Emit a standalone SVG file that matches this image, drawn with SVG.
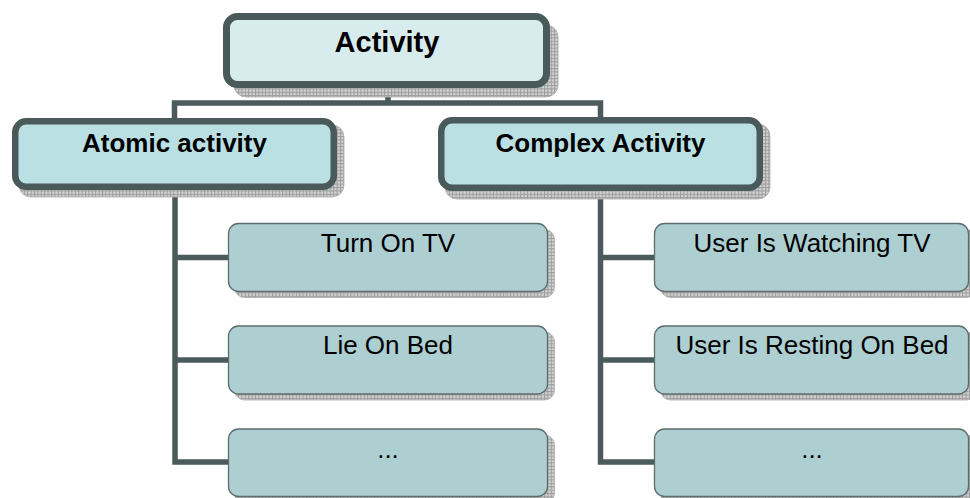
<svg xmlns="http://www.w3.org/2000/svg" width="970" height="498" viewBox="0 0 970 498">
<defs>
<pattern id="hatch" width="3.4" height="3.4" patternUnits="userSpaceOnUse">
<rect width="3.4" height="3.4" fill="#d2d2d2"/>
<path d="M0 0.5H3.4M0.5 0V3.4" stroke="#9c9c9c" stroke-width="1" fill="none"/>
</pattern>
</defs>
<style>
.shadow{fill:url(#hatch);stroke:#aaaaaa;stroke-width:0.8}
.top{fill:#d8ecee;stroke:#4a5a5a;stroke-width:7}
.mid{fill:#bbe0e4;stroke:#4a5a5a;stroke-width:6.5}
.leaf{fill:#adcfd1;stroke:#5d6d6d;stroke-width:1.3}
.conn{fill:none;stroke:#4b5b5b;stroke-width:5.5;stroke-linejoin:miter;stroke-linecap:butt}
.bold{font-family:"Liberation Sans",Arial,sans-serif;font-weight:bold;fill:#000;text-anchor:middle}
.reg{font-family:"Liberation Sans",Arial,sans-serif;font-size:26px;fill:#000;text-anchor:middle}
</style>
<g id="connectors">
<path class="conn" d="M388 88V103"/>
<path class="conn" d="M174.5 118V103H600.5V118"/>
<path class="conn" d="M175 190V462H229"/>
<path class="conn" d="M175 257.5H229"/>
<path class="conn" d="M175 360H229"/>
<path class="conn" d="M600.5 191V462H655"/>
<path class="conn" d="M600.5 257.5H655"/>
<path class="conn" d="M600.5 360H655"/>
</g>
<g id="activity">
<rect class="shadow" x="234" y="25" width="324" height="72" rx="12"/>
<rect class="top" x="226.5" y="16.5" width="320" height="68" rx="11"/>
<text class="bold" x="387" y="52" font-size="29">Activity</text>
</g>
<g id="atomic">
<rect class="shadow" x="19" y="125" width="325" height="72" rx="12"/>
<rect class="mid" x="15.25" y="121.25" width="318.5" height="65.5" rx="11"/>
<text class="bold" x="174.5" y="152" font-size="26">Atomic activity</text>
</g>
<g id="complex">
<rect class="shadow" x="445" y="124" width="325" height="75" rx="12"/>
<rect class="mid" x="441.25" y="120.25" width="318.5" height="67.5" rx="11"/>
<text class="bold" x="600.5" y="152" font-size="26">Complex Activity</text>
</g>
<g id="turn-on-tv">
<rect class="shadow" x="234.5" y="229.5" width="320" height="68" rx="10"/>
<rect class="leaf" x="228.5" y="223.5" width="319" height="68" rx="10"/>
<text class="reg" x="388" y="252">Turn On TV</text>
</g>
<g id="lie-on-bed">
<rect class="shadow" x="234.5" y="332" width="320" height="68" rx="10"/>
<rect class="leaf" x="228.5" y="326" width="319" height="68" rx="10"/>
<text class="reg" x="388" y="354">Lie On Bed</text>
</g>
<g id="atomic-more">
<rect class="shadow" x="234.5" y="435" width="320" height="68" rx="10"/>
<rect class="leaf" x="228.5" y="429" width="319" height="67.5" rx="10"/>
<text class="reg" x="388" y="458">...</text>
</g>
<g id="watching-tv">
<rect class="shadow" x="660.5" y="229.5" width="316" height="68" rx="10"/>
<rect class="leaf" x="654.5" y="223.5" width="314" height="68" rx="10"/>
<text class="reg" x="812" y="252">User Is Watching TV</text>
</g>
<g id="resting-on-bed">
<rect class="shadow" x="660.5" y="332" width="316" height="68" rx="10"/>
<rect class="leaf" x="654.5" y="326" width="314" height="68" rx="10"/>
<text class="reg" x="812" y="354">User Is Resting On Bed</text>
</g>
<g id="complex-more">
<rect class="shadow" x="660.5" y="435" width="316" height="68" rx="10"/>
<rect class="leaf" x="654.5" y="429" width="314" height="67.5" rx="10"/>
<text class="reg" x="812" y="458">...</text>
</g>
</svg>
